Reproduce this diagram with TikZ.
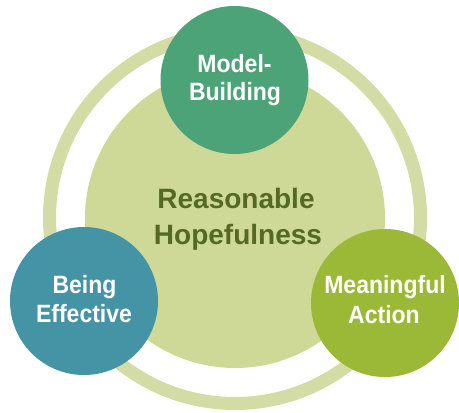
\documentclass[tikz,border=0pt]{standalone}
\usepackage{fontspec}
\setmainfont{Liberation Sans}
\newfontfamily\smallcirclefont[FakeStretch=0.92]{Liberation Sans}
\definecolor{ringcol}{RGB}{210,220,164}
\definecolor{diskcol}{RGB}{206,216,151}
\definecolor{modelcol}{RGB}{77,163,120}
\definecolor{effcol}{RGB}{69,148,166}
\definecolor{actcol}{RGB}{155,185,55}
\definecolor{hopecol}{RGB}{85,105,35}
\begin{document}
\begin{tikzpicture}[x=1pt,y=-1pt,
  bubble/.style={circle, inner sep=0pt, minimum size=148pt},
  bubbletext/.style={anchor=base, inner sep=0pt, text=white, font=\smallcirclefont\fontsize{25}{25}\selectfont\bfseries},
  hopetext/.style={anchor=base, inner sep=0pt, text=hopecol, font=\fontsize{28}{28}\selectfont\bfseries}]
\useasboundingbox (0,0) rectangle (459,413);
\coordinate (c) at (235,218);
\draw[ringcol, line width=13pt] (c) circle (185.5);
\node[circle, inner sep=0pt, minimum size=300pt, fill=diskcol] (disk) at (c) {};
\node[hopetext] (reas) at (236,208) {Reasonable};
\node[hopetext] (hope) at (238,244) {Hopefulness};
\node[bubble, fill=modelcol] (model) at (234.5,80) {};
\node[bubble, fill=effcol] (eff) at (84,301) {};
\node[bubble, fill=actcol] (act) at (385,303) {};
\node[bubbletext] (model1) at (234.5,72) {Model-};
\node[bubbletext] (model2) at (235,100) {Building};
\node[bubbletext] (eff1) at (84.5,293) {Being};
\node[bubbletext] (eff2) at (84,322) {Effective};
\node[bubbletext] (act1) at (385,293) {Meaningful};
\node[bubbletext] (act2) at (384,323) {Action};
\end{tikzpicture}
\end{document}
